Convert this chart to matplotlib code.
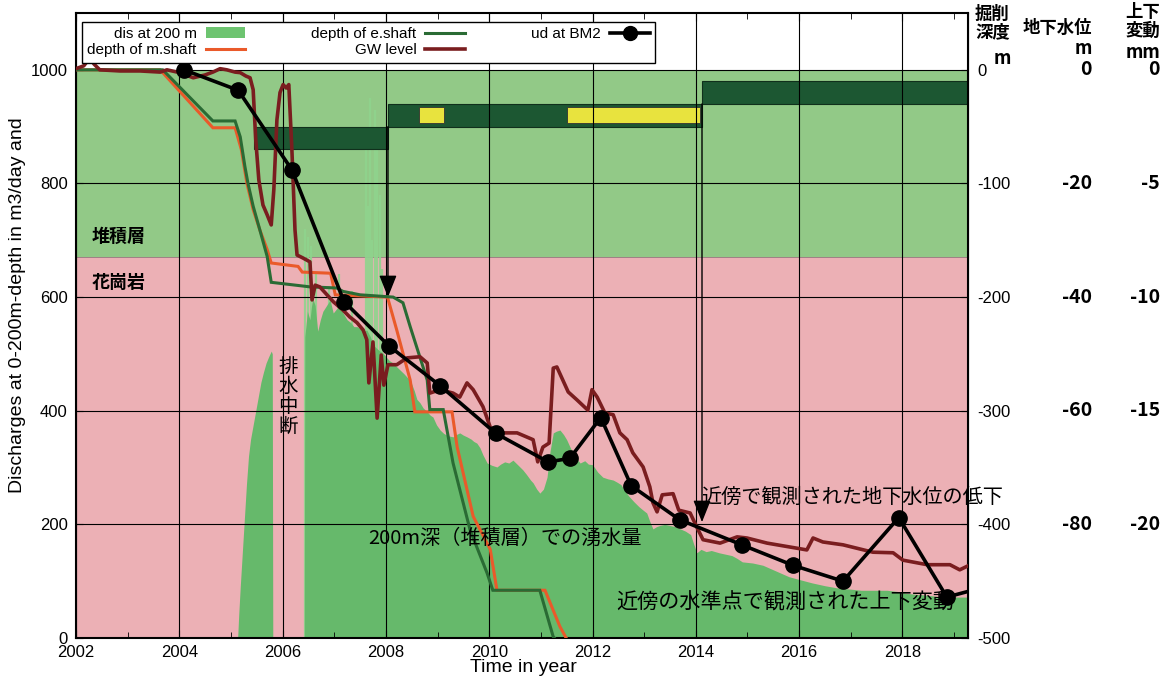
import matplotlib
matplotlib.use("Agg")
import matplotlib.pyplot as plt
from matplotlib.patches import Rectangle, Patch
from matplotlib.lines import Line2D
import matplotlib.transforms as mtransforms
import numpy as np

plt.rcParams['font.family'] = ['Liberation Sans', 'Noto Sans CJK JP', 'DejaVu Sans']
plt.rcParams['axes.unicode_minus'] = False
JP = ['Noto Sans CJK JP', 'DejaVu Sans']

# ---------------- data ----------------
# discharge at 0-200 m depth (m3/day)
dis_year = [2005.13, 2005.15, 2005.18, 2005.22, 2005.26, 2005.30, 2005.34, 2005.38, 2005.43, 2005.48,
            2005.53, 2005.58, 2005.63, 2005.68, 2005.73, 2005.78, 2005.80, 2005.81, 2006.42, 2006.43,
            2006.48, 2006.53, 2006.58, 2006.63, 2006.68, 2006.73, 2006.78, 2006.85, 2006.92, 2006.98,
            2007.05, 2007.12, 2007.17, 2007.25, 2007.32, 2007.38, 2007.44, 2007.50, 2007.56, 2007.63,
            2007.70, 2007.76, 2007.82, 2007.88, 2007.94, 2008.00, 2008.07, 2008.14, 2008.20, 2008.27,
            2008.35, 2008.42, 2008.47, 2008.55, 2008.60, 2008.66, 2008.72, 2008.80, 2008.86, 2008.91,
            2008.98, 2009.05, 2009.12, 2009.20, 2009.30, 2009.36, 2009.43, 2009.50, 2009.57, 2009.65,
            2009.70, 2009.76, 2009.82, 2009.88, 2009.96, 2010.05, 2010.15, 2010.22, 2010.30, 2010.38,
            2010.46, 2010.55, 2010.65, 2010.72, 2010.80, 2010.85, 2010.92, 2010.98, 2011.05, 2011.12,
            2011.18, 2011.24, 2011.30, 2011.37, 2011.44, 2011.50, 2011.57, 2011.64, 2011.70, 2011.76,
            2011.85, 2011.92, 2012.00, 2012.10, 2012.20, 2012.30, 2012.40, 2012.48, 2012.55, 2012.62,
            2012.70, 2012.80, 2012.90, 2012.98, 2013.05, 2013.11, 2013.17, 2013.24, 2013.30, 2013.40,
            2013.50, 2013.60, 2013.70, 2013.80, 2013.90, 2013.96, 2014.02, 2014.10, 2014.20, 2014.30,
            2014.45, 2014.60, 2014.70, 2014.80, 2014.90, 2015.10, 2015.30, 2015.50, 2015.65, 2015.80,
            2016.00, 2016.25, 2016.50, 2016.75, 2017.00, 2017.20, 2017.50, 2017.70, 2017.90, 2018.05,
            2018.25, 2018.40, 2018.60, 2018.75, 2019.00, 2019.30]
dis_value = [0, 40, 90, 150, 210, 270, 320, 350, 375, 400,
             425, 450, 468, 484, 495, 505, 500, 0, 0, 530,
             575, 560, 600, 585, 540, 560, 575, 585, 595, 572,
             580, 590, 572, 560, 555, 548, 548, 545, 540, 542,
             530, 515, 510, 505, 502, 495, 488, 484, 478, 472,
             465, 458, 454, 435, 420, 414, 405, 398, 392, 389,
             375, 366, 360, 356, 354, 358, 361, 357, 354, 350,
             346, 343, 335, 322, 308, 304, 301, 306, 310, 308,
             313, 305, 296, 288, 278, 273, 262, 255, 262, 283,
             330, 361, 364, 366, 358, 349, 335, 322, 315, 308,
             312, 306, 305, 292, 283, 280, 278, 274, 270, 260,
             250, 240, 231, 225, 220, 205, 192, 196, 198, 200,
             198, 196, 192, 188, 182, 165, 150, 156, 152, 154,
             150, 147, 145, 140, 134, 132, 128, 120, 114, 108,
             103, 97, 92, 88, 86, 84, 84, 84, 82, 79,
             77, 76, 74, 72, 72, 72]

# short-lived discharge peaks
spike_year = [2006.44, 2006.49, 2006.55, 2006.65, 2006.90, 2007.10, 2007.35,
              2007.62, 2007.66, 2007.70, 2007.74, 2007.78, 2007.82, 2007.88, 2007.93]
spike_value = [720, 705, 690, 640, 620, 640, 610,
               880, 760, 950, 700, 930, 860, 780, 650]

# shaft excavation depth (m)
m_shaft_year = [2002.0, 2003.63, 2004.65, 2005.08, 2005.20, 2005.31, 2005.43, 2005.56, 2005.70,
                2005.78, 2006.30, 2006.38, 2006.93, 2007.02, 2008.03, 2008.08, 2008.21, 2008.47,
                2008.56, 2009.28, 2009.38, 2009.69, 2010.02, 2010.15, 2011.08, 2011.37, 2011.49]
m_shaft_depth = [0, 0, -51, -51, -70, -100, -123, -141, -158,
                 -170, -173, -178, -179, -198, -200, -208, -229, -273,
                 -301, -301, -332, -393, -422, -458, -458, -490, -500]

e_shaft_year = [2002.0, 2003.68, 2004.65, 2005.08, 2005.18, 2005.27, 2005.33, 2005.43, 2005.56,
                2005.70, 2005.78, 2006.53, 2007.05, 2007.17, 2007.50, 2008.14, 2008.33, 2008.47,
                2008.80, 2008.85, 2009.11, 2009.30, 2009.63, 2009.96, 2010.07, 2010.98, 2011.24,
                2011.26]
e_shaft_depth = [0, 0, -45, -45, -59, -85, -100, -120, -141,
                 -164, -187, -191, -192, -195, -198, -200, -205, -226,
                 -273, -299, -299, -346, -405, -443, -458, -458, -499,
                 -500]

# groundwater level (m)
gw_year = [2002.00, 2002.15, 2002.27, 2002.35, 2002.46, 2002.85, 2003.24, 2003.63, 2003.76, 2004.01,
           2004.27, 2004.50, 2004.65, 2004.79, 2004.92, 2005.08, 2005.18, 2005.29, 2005.37, 2005.43,
           2005.48, 2005.54, 2005.62, 2005.70, 2005.78, 2005.83, 2005.89, 2005.95, 2006.01, 2006.07,
           2006.12, 2006.18, 2006.24, 2006.28, 2006.39, 2006.53, 2006.57, 2006.63, 2006.72, 2006.98,
           2007.17, 2007.30, 2007.44, 2007.56, 2007.63, 2007.67, 2007.75, 2007.83, 2007.91, 2007.96,
           2008.04, 2008.21, 2008.41, 2008.66, 2008.80, 2008.85, 2009.05, 2009.30, 2009.43, 2009.57,
           2009.69, 2009.88, 2010.02, 2010.15, 2010.54, 2010.85, 2010.94, 2011.04, 2011.16, 2011.24,
           2011.31, 2011.53, 2011.70, 2011.91, 2011.99, 2012.09, 2012.24, 2012.40, 2012.53, 2012.67,
           2012.78, 2012.98, 2013.11, 2013.17, 2013.25, 2013.35, 2013.56, 2013.67, 2013.89, 2014.02,
           2014.14, 2014.47, 2014.80, 2014.99, 2015.38, 2015.96, 2016.15, 2016.27, 2016.46, 2016.85,
           2017.43, 2017.82, 2018.01, 2018.48, 2018.92, 2019.11, 2019.27]
gw_level = [0.2, 0.7, 2.1, 1.0, 0.0, -0.2, -0.2, -0.4, 0.0, -0.5,
            -1.4, -0.9, -0.4, 0.2, 0.0, -0.4, -0.5, -1.1, -1.4, -3.5,
            -12.3, -19.4, -23.8, -25.5, -27.3, -21.1, -8.8, -4.0, -2.6, -3.2,
            -2.6, -14.1, -28.2, -32.6, -33.1, -33.8, -40.5, -37.9, -38.2, -40.8,
            -42.3, -43.5, -44.5, -45.8, -47.5, -55.1, -47.9, -61.3, -50.2, -55.5,
            -51.9, -51.9, -50.7, -50.5, -51.6, -56.9, -56.3, -56.9, -57.6, -55.1,
            -56.3, -59.3, -62.9, -63.9, -63.9, -65.1, -69.0, -66.4, -65.7, -52.5,
            -52.3, -56.7, -58.1, -59.9, -56.3, -57.6, -60.4, -60.7, -63.9, -65.1,
            -67.4, -69.9, -73.4, -76.2, -77.8, -74.8, -74.6, -77.5, -78.0, -80.5,
            -82.7, -83.3, -82.2, -82.4, -83.3, -84.2, -84.5, -82.4, -83.1, -83.6,
            -84.9, -85.0, -86.3, -87.1, -87.1, -88.0, -87.3]

# vertical displacement at benchmark BM2 (mm)
ud_year = [2004.09, 2005.14, 2006.18, 2007.19, 2008.06, 2009.05, 2010.13, 2011.14, 2011.56,
           2012.16, 2012.75, 2013.69, 2014.89, 2015.88, 2016.85, 2017.93, 2018.86, 2019.85]
ud_mm = [0.0, -0.9, -4.4, -10.2, -12.15, -13.9, -16.0, -17.25, -17.1,
         -15.3, -18.3, -19.8, -20.9, -21.8, -22.5, -19.7, -23.2, -22.6]

# excavation stage bars (start year, end year, top depth, bottom depth) in m
stage_bars = [(2005.45, 2008.04, -50, -70),
              (2008.04, 2014.12, -30, -50),
              (2014.12, 2019.27, -10, -30)]
yellow_bars = [(2008.65, 2009.13, -33, -47),
               (2011.50, 2014.08, -33, -47)]
# arrows from the stage bars down to the reached depth
stage_arrows = [(2008.04, -50, -200), (2014.12, -30, -398)]

sediment_base_depth = -165  # boundary between 堆積層 and 花崗岩 (m)

depth_ticks = [0, -100, -200, -300, -400, -500]
gw_ticks = [0, -20, -40, -60, -80]
ud_ticks = [0, -5, -10, -15, -20]
year_ticks = list(range(2002, 2019, 2))
dis_ticks = [0, 200, 400, 600, 800, 1000]


# scale conversions onto the discharge axis
def depth_to_dis(d):
    return 1000 + 2 * np.asarray(d, dtype=float)


def gw_to_dis(g):
    return 1000 + 10 * np.asarray(g, dtype=float)


def ud_to_dis(u):
    return 1000 + 40 * np.asarray(u, dtype=float)


# ---------------- colours ----------------
C_BAND_SED = '#92c987'
C_BAND_GRA = '#ecb0b5'
C_DIS = '#66b96b'
C_SPIKE = '#8fd48d'
C_BAR = '#1c5732'
C_YEL = '#e8e33e'
C_MSHAFT = '#ea5a2a'
C_ESHAFT = '#2a6b34'
C_GW = '#7a1d1f'

W, H = 1168, 681
fig = plt.figure(figsize=(W / 100, H / 100), dpi=100)
ax = fig.add_axes([76 / W, 43 / H, 892 / W, 625 / H])
ax.set_xlim(2002, 2019.27)
ax.set_ylim(0, 1100)

sed_base = float(depth_to_dis(sediment_base_depth))
ax.axhspan(0, sed_base, color=C_BAND_GRA, lw=0, zorder=0)
ax.axhspan(sed_base, 1000, color=C_BAND_SED, lw=0, zorder=0)
ax.axhline(sed_base, color='#555555', lw=0.6, alpha=0.6, zorder=0.5)

# discharge
ax.fill_between(dis_year, 0, dis_value, color=C_DIS, lw=0, zorder=1.5)
ax.vlines(spike_year, 0, spike_value, color=C_SPIKE, lw=1.6, alpha=0.9, zorder=1.4)

# excavation stage bars
for x0, x1, d0, d1 in stage_bars:
    y0 = float(depth_to_dis(d1))
    y1 = float(depth_to_dis(d0))
    ax.add_patch(Rectangle((x0, y0), x1 - x0, y1 - y0, facecolor=C_BAR,
                           edgecolor='#10301c', lw=0.8, zorder=2))
for x0, x1, d0, d1 in yellow_bars:
    y0 = float(depth_to_dis(d1))
    y1 = float(depth_to_dis(d0))
    ax.add_patch(Rectangle((x0, y0), x1 - x0, y1 - y0, facecolor=C_YEL,
                           edgecolor='#333333', lw=0.6, zorder=2.1))

# grid above fills
ax.set_axisbelow(False)
ax.grid(True, which='major', color='black', lw=0.8)

for xa, d_from, d_to in stage_arrows:
    ax.annotate('', xy=(xa, float(depth_to_dis(d_to))), xytext=(xa, float(depth_to_dis(d_from))),
                arrowprops=dict(arrowstyle='-|>,head_width=0.32,head_length=0.8', color='black',
                                lw=1.0, shrinkA=0, shrinkB=0, mutation_scale=17), zorder=3)

ax.plot(m_shaft_year, depth_to_dis(m_shaft_depth), color=C_MSHAFT, lw=2.2, zorder=4,
        solid_joinstyle='miter')
ax.plot(e_shaft_year, depth_to_dis(e_shaft_depth), color=C_ESHAFT, lw=2.2, zorder=4.1,
        solid_joinstyle='miter')
ax.plot(gw_year, gw_to_dis(gw_level), color=C_GW, lw=2.6, zorder=5)
ax.plot(ud_year, ud_to_dis(ud_mm), color='black', lw=2.6, marker='o', markersize=11, zorder=6)

# axes styling
ax.set_xticks(year_ticks)
ax.set_xticks(np.arange(2003, 2020, 2), minor=True)
ax.set_yticks(dis_ticks)
ax.tick_params(axis='both', which='both', direction='in', top=True, labelsize=12)
ax.tick_params(axis='x', which='major', length=6, pad=5)
ax.tick_params(axis='x', which='minor', length=4)
ax.tick_params(axis='y', which='major', length=5, pad=6)
for sp in ax.spines.values():
    sp.set_linewidth(1.5)

# excavation depth axis on the right
sec = ax.secondary_yaxis('right', functions=(lambda v: (v - 1000) / 2, lambda d: 1000 + 2 * d))
sec.set_yticks(depth_ticks)
sec.tick_params(direction='in', length=5, pad=7, labelsize=12)

blend = mtransforms.blended_transform_factory(fig.transFigure, ax.transData)
for g in gw_ticks:
    ax.text(1092 / W, float(gw_to_dis(g)), str(g), transform=blend, ha='right', va='center',
            fontsize=14, fontweight='bold', family=JP, clip_on=False)
for u in ud_ticks:
    ax.text(1160 / W, float(ud_to_dis(u)), str(u), transform=blend, ha='right', va='center',
            fontsize=14, fontweight='bold', family=JP, clip_on=False)

# column headers
fig.text(975 / W, 1 - 5 / H, '掘削\n深度', ha='left', va='top', fontsize=12.5,
         fontweight='bold', family=JP, linespacing=1.05)
fig.text(1011 / W, 1 - 58 / H, 'm', ha='right', va='center', fontsize=13, fontweight='bold', family=JP)
fig.text(1092 / W, 1 - 28 / H, '地下水位', ha='right', va='center', fontsize=12.5,
         fontweight='bold', family=JP)
fig.text(1092 / W, 1 - 49 / H, 'm', ha='right', va='center', fontsize=13, fontweight='bold', family=JP)
fig.text(1160 / W, 1 - 3 / H, '上下\n変動', ha='right', va='top', fontsize=12.5,
         fontweight='bold', family=JP, linespacing=1.05)
fig.text(1160 / W, 1 - 52 / H, 'mm', ha='right', va='center', fontsize=13, fontweight='bold', family=JP)

# axis titles
fig.text(523 / W, 1 - 668 / H, 'Time in year', ha='center', va='center', fontsize=14)
fig.text(18 / W, 1 - 305 / H, 'Discharges at 0-200m-depth in m3/day and', ha='center', va='center',
         rotation=90, fontsize=14)

# annotations
ax.text(2002.3, float(depth_to_dis(-147)), '堆積層', family=JP, fontsize=13, fontweight='bold',
        ha='left', va='center', zorder=7)
ax.text(2002.3, float(depth_to_dis(-187)), '花崗岩', family=JP, fontsize=13, fontweight='bold',
        ha='left', va='center', zorder=7)
ax.text(2006.1, 425, '排\n水\n中\n断', family=JP, fontsize=14, ha='center', va='center',
        linespacing=0.92, zorder=7)
ax.text(2010.3, 175, '200m深（堆積層）での湧水量', family=JP, fontsize=14.5, ha='center',
        va='center', zorder=7)
ax.text(2014.1, 247, '近傍で観測された地下水位の低下', family=JP, fontsize=14.5, ha='left',
        va='center', zorder=7, clip_on=False)
ax.text(2019.0, 62, '近傍の水準点で観測された上下変動', family=JP, fontsize=15.2, ha='right',
        va='center', zorder=7)

# legend
handles = [Patch(facecolor='#6dc470', edgecolor='none'),
           Line2D([], [], color=C_MSHAFT, lw=2.2),
           Line2D([], [], color=C_ESHAFT, lw=2.2),
           Line2D([], [], color=C_GW, lw=2.6),
           Line2D([], [], color='black', lw=2.6, marker='o', markersize=10)]
labels = ['dis at 200 m', 'depth of m.shaft', 'depth of e.shaft', 'GW level', 'ud at BM2']
leg = ax.legend(handles, labels, ncol=3, loc='upper left', bbox_to_anchor=(0.0067, 0.986),
                borderaxespad=0, markerfirst=False, fontsize=11, frameon=True, fancybox=False,
                framealpha=1, edgecolor='black', handlelength=2.6, handletextpad=0.6,
                columnspacing=4.3, labelspacing=0.15, borderpad=0.35)
leg.get_frame().set_linewidth(1.0)
leg.set_zorder(10)

fig.savefig('out.png', dpi=100)
